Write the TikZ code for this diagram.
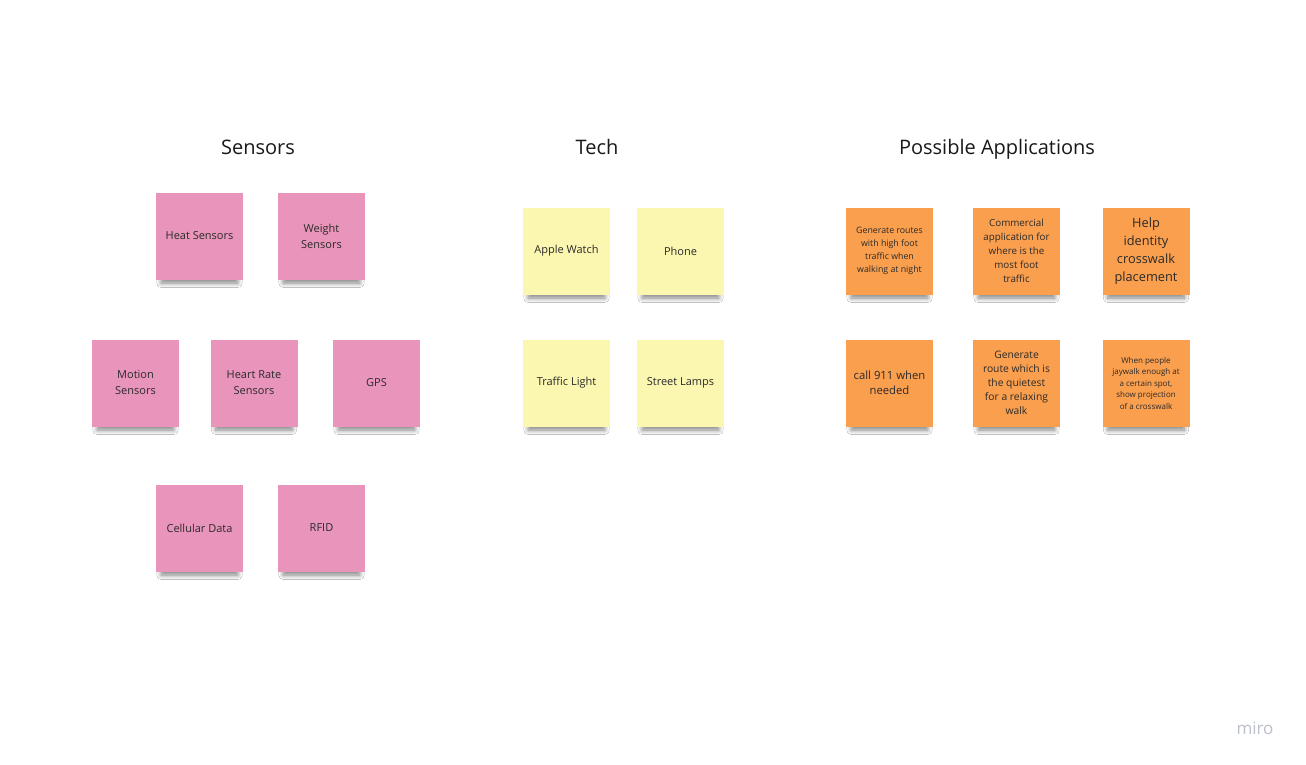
\documentclass[tikz,border=0pt]{standalone}
\usepackage{fontspec}
\setmainfont{Open Sans}
\usetikzlibrary{shadows.blur}

\definecolor{notepink}{HTML}{E995BB}
\definecolor{noteyellow}{HTML}{FBF6B0}
\definecolor{noteorange}{HTML}{FA9F4E}
\definecolor{notetext}{HTML}{2A2A2A}
\definecolor{logogray}{HTML}{BDC1CB}

\begin{document}
\begin{tikzpicture}
[
	              x = 1pt,
	              y = -1pt,
	  sticky/.style = { rectangle, minimum width=87pt, minimum height=87pt, inner sep=2pt,
	                    align=center, text=notetext,
	                    font=\fontsize{11}{16}\selectfont,
	                    blur shadow={shadow xshift=0pt, shadow yshift=-10pt, shadow scale=0.88,
	                                 shadow opacity=50,
	                                 shadow blur radius=5pt, shadow blur steps=14} },
	    pinknote/.style = { sticky, fill=notepink },
	  yellownote/.style = { sticky, fill=noteyellow },
	  orangenote/.style = { sticky, fill=noteorange },
	  heading/.style = { anchor=base, font=\fontsize{20}{24}\selectfont, text=black!90 }
]
	\useasboundingbox (0,0) rectangle (1306,765);
	\fill [white] (0,0) rectangle (1306,765);

	% headings
	\node (sensorsT) at (258,154)  [heading] {Sensors};
	\node (techT)    at (597,154)  [heading] {Tech};
	\node (appsT)    at (997,154)  [heading] {Possible Applications};

	% sensors
	\node (heat)     at (199.5,236) [pinknote] {Heat Sensors};
	\node (weight)   at (321.5,236) [pinknote] {Weight\\Sensors};
	\node (motion)   at (135.5,383) [pinknote] {Motion\\Sensors};
	\node (heart)    at (254,383)   [pinknote] {Heart Rate\\Sensors};
	\node (gps)      at (376.5,383) [pinknote] {GPS};
	\node (cellular) at (199.5,528) [pinknote] {Cellular Data};
	\node (rfid)     at (321.5,528) [pinknote] {RFID};

	% tech
	\node (watch)    at (566.5,251) [yellownote] {Apple Watch};
	\node (phone)    at (680.5,251) [yellownote] {Phone};
	\node (traffic)  at (566.5,383) [yellownote] {Traffic Light};
	\node (lamps)    at (680.5,383) [yellownote] {Street Lamps};

	% applications
	\node (routes)   at (889.5,251) [orangenote, font=\fontsize{8.8}{13}\selectfont]
		{Generate routes\\with high foot\\traffic when\\walking at night};
	\node (commerce) at (1016.5,251) [orangenote, font=\fontsize{9.8}{14}\selectfont]
		{Commercial\\application for\\where is the\\most foot\\traffic};
	\node (crossing) at (1146,251)  [orangenote, font=\fontsize{12.8}{18}\selectfont]
		{Help\\identity\\crosswalk\\placement};
	\node (emergency) at (889.5,383) [orangenote, font=\fontsize{11.3}{15.5}\selectfont]
		{call 911 when\\needed};
	\node (quiet)    at (1016.5,383) [orangenote, font=\fontsize{10.3}{14}\selectfont]
		{Generate\\route which is\\the quietest\\for a relaxing\\walk};
	\node (jaywalk)  at (1146,383)  [orangenote, font=\fontsize{8}{11.5}\selectfont]
		{When people\\jaywalk enough at\\a certain spot,\\show projection\\of a crosswalk};

	% logo
	\node (logo) at (1255,728) [text=logogray, font=\fontsize{17}{20}\selectfont] {miro};

\end{tikzpicture}
\end{document}
